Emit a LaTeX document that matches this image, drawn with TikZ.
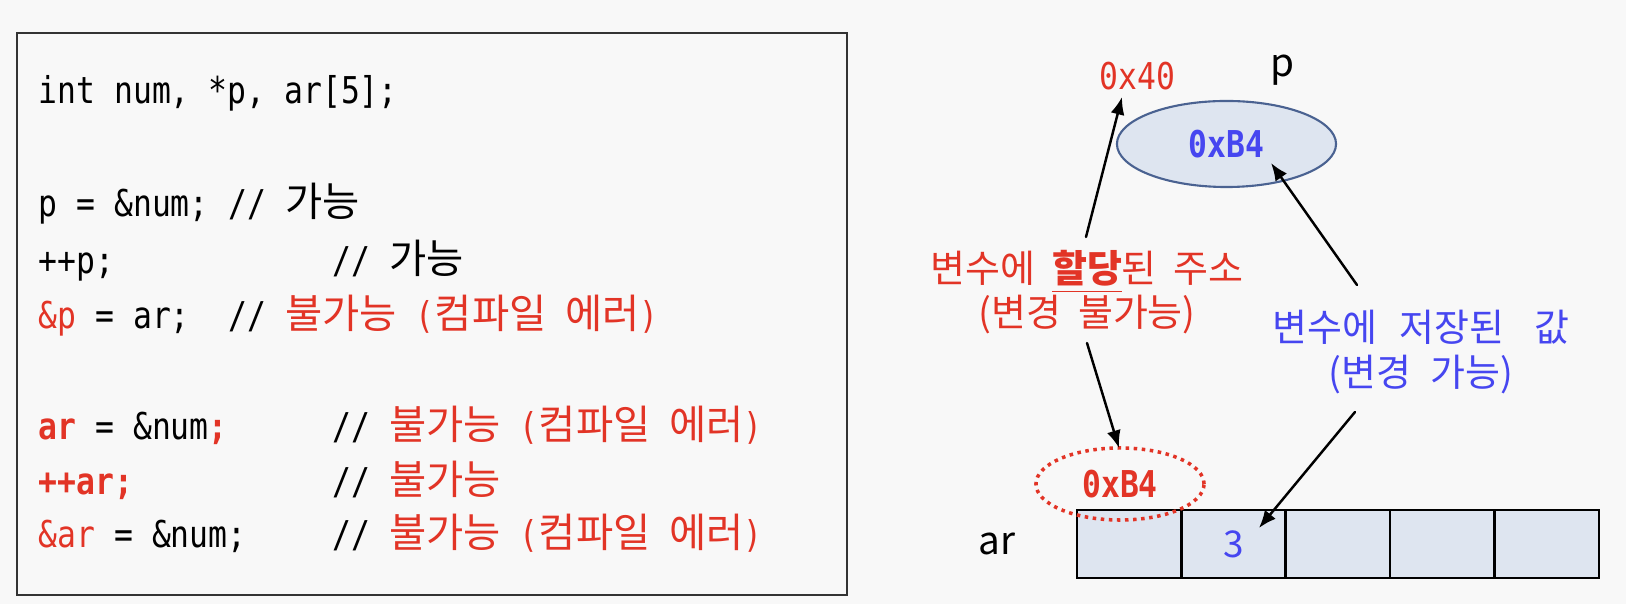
\documentclass[tikz,border=0pt]{standalone}
\usepackage{fontspec}
\usepackage{tkz-euclide}
\usetikzlibrary{calc}
\usetikzlibrary{positioning}
\usetikzlibrary{shapes.geometric}
\usetikzlibrary{arrows.meta}

\newfontfamily\codefont[FakeStretch=0.85]{DejaVu Sans Mono}
\newfontfamily\krfont{Noto Sans CJK KR}
\newcommand{\codesize}{\fontsize{10.5}{12}\selectfont}
\newcommand{\labsize}{\fontsize{10.8}{12}\selectfont}
\newcommand{\kr}[1]{{\krfont\fontsize{11.5}{12}\selectfont #1}}

\definecolor{bggray}{RGB}{248,248,248}
\definecolor{errred}{RGB}{226,52,38}
\definecolor{valblue}{RGB}{70,70,240}
\definecolor{cellfill}{RGB}{222,229,240}
\definecolor{cellline}{RGB}{74,98,145}

\tikzset{
  codeline/.style={anchor=base west, inner sep=0pt, font=\codefont\codesize},
  lab/.style={anchor=base, inner sep=0pt, font=\krfont\labsize},
  pvar/.style={ellipse, draw=cellline, line width=0.6pt, fill=cellfill,
    minimum width=2.19cm, minimum height=0.86cm, inner sep=0pt,
    font=\codefont\codesize\bfseries, text=valblue},
  arraddr/.style={ellipse, draw=errred, line width=1pt, dash pattern=on 1pt off 1.3pt,
    minimum width=1.68cm, minimum height=0.72cm, inner sep=0pt,
    font=\codefont\codesize\bfseries, text=errred},
  cellbox/.style={draw, line width=0.75pt, fill=cellfill,
    minimum width=1.044cm, minimum height=0.68cm, inner sep=0pt},
  arrowline/.style={line width=0.7pt, -{Latex[length=5pt,width=4pt]}}
}

\begin{document}
\begin{tikzpicture}[x=0.01cm, y=-0.01cm]
      \useasboundingbox (0,0) rectangle (1626,604);
      \fill[bggray] (0,0) rectangle (1626,604);
      \draw[line width=0.6pt, black!80] (17,33) rectangle (847,595);

      \node[codeline] (l1) at (38,104) {int num, *p, ar[5];};
      \node[codeline] (l2) at (38,217) {p = \&num;};
      \node[codeline] (r2) at (228,217) {// \kr{가능}};
      \node[codeline] (l3) at (38,274) {++p;};
      \node[codeline] (r3) at (332,274) {// \kr{가능}};
      \node[codeline] (l4) at (38,329) {\textcolor{errred}{\&p} = ar;};
      \node[codeline] (r4) at (228,329) {// \color{errred}\kr{불가능} (\kr{컴파일} \kr{에러})};
      \node[codeline] (l5) at (38,440) {\textcolor{errred}{\bfseries ar} = \&num\textcolor{errred}{\bfseries ;}};
      \node[codeline] (r5) at (332,440) {// \color{errred}\kr{불가능} (\kr{컴파일} \kr{에러})};
      \node[codeline] (l6) at (38,495) {\textcolor{errred}{\bfseries ++ar;}};
      \node[codeline] (r6) at (332,495) {// \color{errred}\kr{불가능}};
      \node[codeline] (l7) at (38,548) {\textcolor{errred}{\&ar} = \&num;};
      \node[codeline] (r7) at (332,548) {// \color{errred}\kr{불가능} (\kr{컴파일} \kr{에러})};

      \node[codeline, text=errred] (adr) at (1099,90) {0x40};
      \node[anchor=base west, inner sep=0pt, font=\krfont\fontsize{11}{13}\selectfont] (pname) at (1270,77) {p};
      \node[pvar] (pval) at (1226.5,144) {0xB4};

      \node[anchor=base west, inner sep=0pt, font=\krfont\fontsize{11}{13}\selectfont] (arname) at (978,555) {ar};
      \foreach \i in {1,...,5}
        \node[cellbox] (ar\i) at ({1077+104.4*\i-52.2},544) {};
      \node[font=\krfont\codesize, text=valblue, inner sep=0pt] (three) at (ar2) {3};
      \node[arraddr] (arval) at (1120,484) {0xB4};

      \node[lab, text=errred] (addr) at (1087,283) {변수에\hspace{0.45em}\underline{\textbf{할당}}된\hspace{0.45em}주소};
      \node[lab, text=errred] (addrnote) at (1087,327) {(변경\hspace{0.45em}불가능)};
      \node[lab, text=valblue] (valtxt) at (1421,342) {변수에\hspace{0.6em}저장된\hspace{0.8em}값};
      \node[lab, text=valblue] (valnote) at (1421,387) {(변경\hspace{0.5em}가능)};

      \tkzDefPoints{1086/237/A, 1122/97/B, 1087/343/C, 1119/448/D,
        1357/285/E, 1271/163/F, 1355/412/G, 1259/528/H}
      \tkzDrawSegments[arrowline](A,B C,D E,F G,H)
    \end{tikzpicture}
\end{document}
